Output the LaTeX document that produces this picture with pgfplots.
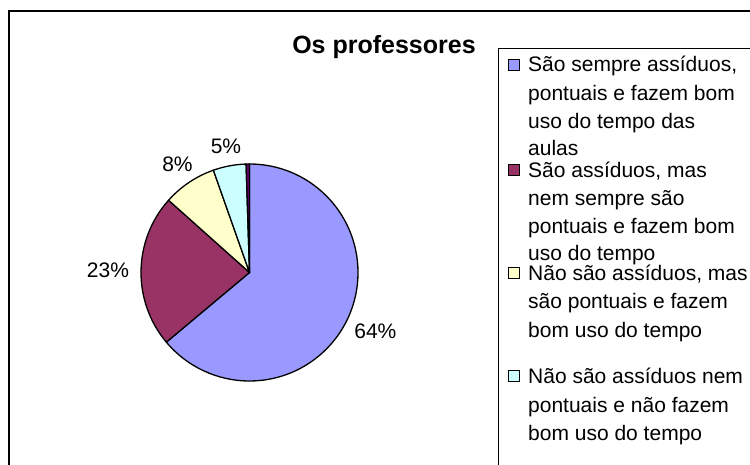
\documentclass[border=0pt]{standalone}
\usepackage{pgfplots}
\pgfplotsset{compat=1.18}
\usepackage{pgfplotstable}
\usepackage{fontspec}
\setmainfont{Liberation Sans}

\definecolor{pie0}{HTML}{9999FF}
\definecolor{pie1}{HTML}{993366}
\definecolor{pie2}{HTML}{FFFFCC}
\definecolor{pie3}{HTML}{CCFFFF}
\definecolor{pie4}{HTML}{660066}

% share of each answer (per cent), clockwise from 12 o'clock
\pgfplotstableread{
value
63.9
22.7
8.0
4.9
0.5
}\piedata

\newcommand{\lf}{\fontsize{21bp}{24bp}\selectfont}

\begin{document}
\begin{tikzpicture}
\useasboundingbox (0,0) rectangle (750bp,465bp);
\clip (0,0) rectangle (750bp,465bp);
\fill[white] (0,0) rectangle (750bp,465bp);
% outer frame
\draw[line width=2bp,black] (8.5bp,454bp) rectangle (800bp,-20bp);
% title
\node[anchor=base,inner sep=0pt,font=\fontsize{25bp}{28bp}\selectfont\bfseries] at (384bp,411.7bp) {Os professores};

\begin{axis}[
  hide axis, clip=false,
  x=108.5bp, y=108.5bp,
  xmin=-1, xmax=1, ymin=-1, ymax=1,
  anchor=center, at={(249.5bp,192.5bp)},
]
\def\cum{0}
\pgfplotsforeachungrouped \i in {0,...,4}{%
  \pgfplotstablegetelem{\i}{value}\of\piedata
  \let\v\pgfplotsretval
  \pgfmathsetmacro\sa{90-3.6*\cum}%
  \pgfmathsetmacro\ea{90-3.6*(\cum+\v)}%
  \pgfmathsetmacro\ma{(\sa+\ea)/2}%
  \pgfmathsetmacro\xs{cos(\sa)}%
  \pgfmathsetmacro\ys{sin(\sa)}%
  \pgfmathsetmacro\xl{1.1*cos(\ma)}%
  \pgfmathsetmacro\yl{1.1*sin(\ma)}%
  \pgfmathsetmacro\an{mod(\ma+180+720,360)}%
  \pgfmathtruncatemacro\lbl{round(\v)}%
  \pgfmathtruncatemacro\show{\v>=1 ? 1 : 0}%
  \pgfmathsetmacro\cum{\cum+\v}%
  \edef\temp{\noexpand\filldraw[fill=pie\i,draw=black,line width=1.3bp,line join=round]
     (axis cs:0,0) -- (axis cs:\xs,\ys) arc[start angle=\sa, end angle=\ea, radius=108.5bp] -- cycle;}%
  \temp
  \ifnum\show=1
    \edef\temp{\noexpand\node[anchor=\an,inner sep=1bp,font=\noexpand\lf] at (axis cs:\xl,\yl) {\lbl\noexpand\%};}%
    \temp
  \fi
}
\end{axis}

% legend
\draw[line width=1.3bp,black] (498.5bp,416.5bp) rectangle (800bp,-20bp);
\foreach \c/\b in {pie0/72,pie1/177,pie2/280,pie3/383}{
  \filldraw[fill=\c,draw=black,line width=1bp] (508bp,{(466-\b)*1bp}) rectangle (519bp,{(477-\b)*1bp});
}
\foreach \t/\b in {
  {São sempre assíduos,}/72,
  {pontuais e fazem bom}/100,
  {uso do tempo das}/128,
  {aulas}/155,
  {São assíduos, mas}/177,
  {nem sempre são}/205,
  {pontuais e fazem bom}/233,
  {uso do tempo}/260,
  {Não são assíduos, mas}/280,
  {são pontuais e fazem}/308,
  {bom uso do tempo}/337,
  {Não são assíduos nem}/383,
  {pontuais e não fazem}/412,
  {bom uso do tempo}/440}{
  \node[anchor=base west,inner sep=0pt,font=\lf] at (528bp,{(465-\b)*1bp}) {\t};
}
\end{tikzpicture}
\end{document}
